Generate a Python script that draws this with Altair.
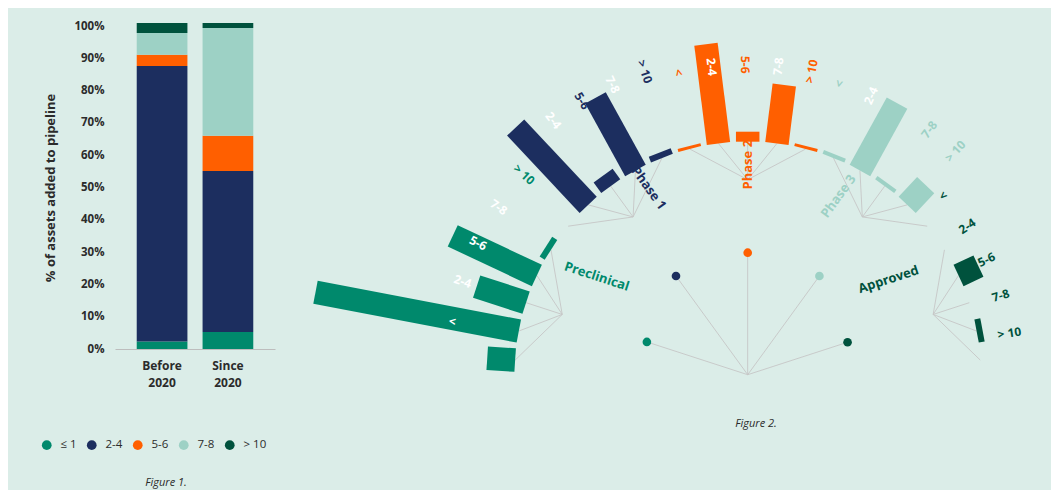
import altair as alt
import numpy as np
import pandas as pd

# ---------------- data ----------------
periods = ["Before 2020", "Since 2020"]
categories = ["≤ 1", "2-4", "5-6", "7-8", "> 10"]
before_2020 = [2.3, 85.3, 3.5, 6.7, 3.1]
since_2020 = [5.3, 49.8, 10.9, 33.4, 1.5]

phases = ["Preclinical", "Phase 1", "Phase 2", "Phase 3", "Approved"]
preclinical = [28, 207, 52, 93, 6]
phase_1 = [0, 106, 13, 83, 6]
phase_2 = [3, 100, 10, 59, 3]
phase_3 = [4, 77, 4, 27, 0]
approved = [0, 22, 0, 6, 0]
bar_labels = ["<", "2-4", "5-6", "7-8", "> 10"]

# ---------------- style / layout ----------------
colors = ["#00896c", "#1c2e5f", "#ff5f00", "#9dd1c5", "#00523d"]
BG = "#dbede8"
FONT = "Open Sans"
TXT = "#2b2b2b"

phase_angle = [-72, -36, 0, 36, 72]
STEP = 7.2
R_IN = 233
R_HUB = 195
dot_r = [106, 122, 122, 122, 105]
lab_r = [300, 320, 310, 305, 265]
lab_shift = [8, 4.8, -0.5, -5.8, -7.7]
lab_step = [7.9, 6.2, 6.2, 6.35, 8.35]
ph_lab_r = [180, 211, 210, 200, 170]
ph_lab_shift = [15, 8, 0, -9, -16]
white_labels = {("Preclinical", "≤ 1"), ("Preclinical", "2-4"), ("Preclinical", "5-6"),
                ("Preclinical", "7-8"), ("Phase 1", "2-4"), ("Phase 1", "7-8"),
                ("Phase 2", "2-4"), ("Phase 2", "7-8"), ("Phase 3", "2-4")}
hidden_labels = {("Phase 1", "≤ 1"), ("Phase 3", "5-6")}

# ---------------- Figure 1 ----------------
rows = []
for p, vals in zip(periods, [before_2020, since_2020]):
    for i, (c, v) in enumerate(zip(categories, vals)):
        rows.append({"period": p, "category": c, "order": i, "share": v / 100})
df1 = pd.DataFrame(rows)

fig1 = alt.Chart(df1).mark_bar().encode(
    x=alt.X("period:N", sort=periods,
            scale=alt.Scale(paddingInner=0.23, paddingOuter=0.33),
            axis=alt.Axis(title=None, labelExpr="split(datum.label, ' ')", labelAngle=0,
                          labelFontWeight="bold", labelFontSize=12, labelColor=TXT,
                          labelPadding=11, ticks=False, domainColor="#bdbdbd",
                          labelLineHeight=17)),
    y=alt.Y("share:Q", stack="zero", scale=alt.Scale(domain=[0, 1], nice=False),
            axis=alt.Axis(format="%", values=[i / 10 for i in range(11)],
                          title="% of assets added to pipeline", domain=False, ticks=False,
                          grid=False, labelPadding=11, labelFontWeight="bold",
                          labelFontSize=11.5, labelColor=TXT, titleFontSize=13,
                          titleFontWeight="bold", titleColor=TXT, titlePadding=16)),
    color=alt.Color("category:N", sort=categories,
                    scale=alt.Scale(domain=categories, range=colors),
                    legend=alt.Legend(title=None, orient="none", legendX=-74, legendY=413,
                                      direction="horizontal", symbolType="circle",
                                      symbolSize=95, symbolStrokeWidth=0, labelFontSize=11.5,
                                      labelColor=TXT, columnPadding=9, labelOffset=8)),
    order=alt.Order("order:Q"),
).properties(
    width=160, height=323,
    title=alt.TitleParams("Figure 1.", orient="bottom", fontStyle="italic",
                          fontWeight="normal", fontSize=11, color=TXT, offset=26, dx=-29),
)

# ---------------- Figure 2 ----------------
series = [preclinical, phase_1, phase_2, phase_3, approved]
bars, labels = [], []
for pi, (ph, vals) in enumerate(zip(phases, series)):
    pa = np.radians(phase_angle[pi])
    hx, hy = R_HUB * np.sin(pa), R_HUB * np.cos(pa)
    for ci, (cat, v) in enumerate(zip(categories, vals)):
        deg = phase_angle[pi] + (ci - 2) * STEP
        th = np.radians(deg)
        r1 = R_IN + v
        bars.append({"phase": ph, "category": cat, "value": v,
                     "x": R_IN * np.sin(th), "y": R_IN * np.cos(th),
                     "x2": r1 * np.sin(th), "y2": r1 * np.cos(th),
                     "hx": hx, "hy": hy, "col": colors[pi]})
        if (ph, cat) in hidden_labels:
            continue
        ld = phase_angle[pi] + (ci - 2) * lab_step[pi] + lab_shift[pi]
        lt = np.radians(ld)
        rot = (ld + 90) if deg <= 0 else (ld - 90)
        labels.append({"text": bar_labels[ci], "x": lab_r[pi] * np.sin(lt),
                       "y": lab_r[pi] * np.cos(lt), "rot": rot % 360,
                       "col": "#ffffff" if (ph, cat) in white_labels else colors[pi]})
bars = pd.DataFrame(bars)
labels = pd.DataFrame(labels)

hub_rows, ph_labels = [], []
for pi, ph in enumerate(phases):
    pa = np.radians(phase_angle[pi])
    hub_rows.append({"phase": ph, "x0": 0.0, "y0": 0.0,
                     "x": dot_r[pi] * np.sin(pa), "y": dot_r[pi] * np.cos(pa),
                     "col": colors[pi]})
    la = phase_angle[pi] + ph_lab_shift[pi]
    lt = np.radians(la)
    rot = (phase_angle[pi] + 90) if phase_angle[pi] < 0 else (phase_angle[pi] - 90)
    ph_labels.append({"text": ph, "x": ph_lab_r[pi] * np.sin(lt),
                      "y": ph_lab_r[pi] * np.cos(lt), "rot": rot % 360, "col": colors[pi]})
hubs = pd.DataFrame(hub_rows)
ph_labels = pd.DataFrame(ph_labels)

xs = alt.Scale(domain=[-448.7, 291.3], nice=False, zero=False)
ys = alt.Scale(domain=[-25.3, 348.7], nice=False, zero=False)
X = lambda f: alt.X(f, type="quantitative", scale=xs, axis=None)
Y = lambda f: alt.Y(f, type="quantitative", scale=ys, axis=None)

spokes = alt.Chart(bars).mark_rule(color="#c6c6c6", strokeWidth=0.9).encode(
    x=X("hx"), y=Y("hy"), x2="x", y2="y")
center_lines = alt.Chart(hubs).mark_rule(color="#c6c6c6", strokeWidth=0.9).encode(
    x=X("x0"), y=Y("y0"), x2="x", y2="y")
dots = alt.Chart(hubs).mark_circle(size=75, opacity=1).encode(
    x=X("x"), y=Y("y"), color=alt.Color("col:N", scale=None))
bar_marks = alt.Chart(bars).mark_rule(strokeWidth=23.5, strokeCap="butt").encode(
    x=X("x"), y=Y("y"), x2="x2", y2="y2", color=alt.Color("col:N", scale=None))
bar_text = alt.Chart(labels).mark_text(font=FONT, fontSize=12, fontWeight="bold",
                                       align="center", baseline="middle").encode(
    x=X("x"), y=Y("y"), text="text:N", angle=alt.Angle("rot:Q", scale=None),
    color=alt.Color("col:N", scale=None))
phase_text = alt.Chart(ph_labels).mark_text(font=FONT, fontSize=13, fontWeight="bold",
                                            align="center", baseline="middle").encode(
    x=X("x"), y=Y("y"), text="text:N", angle=alt.Angle("rot:Q", scale=None),
    color=alt.Color("col:N", scale=None))

fig2 = alt.layer(spokes, center_lines, bar_marks, dots, bar_text, phase_text).properties(
    width=740, height=374,
    title=alt.TitleParams("Figure 2.", orient="bottom", fontStyle="italic",
                          fontWeight="normal", fontSize=11, color=TXT, offset=18, dx=87),
)

chart = alt.hconcat(fig1, fig2, spacing=24).resolve_scale(color="independent").properties(
    padding={"left": 33, "top": 12, "right": 12, "bottom": 2},
    background=BG,
).configure(font=FONT).configure_view(stroke=None)

chart.save("out.html", embed_options={"renderer": "svg", "actions": False})
